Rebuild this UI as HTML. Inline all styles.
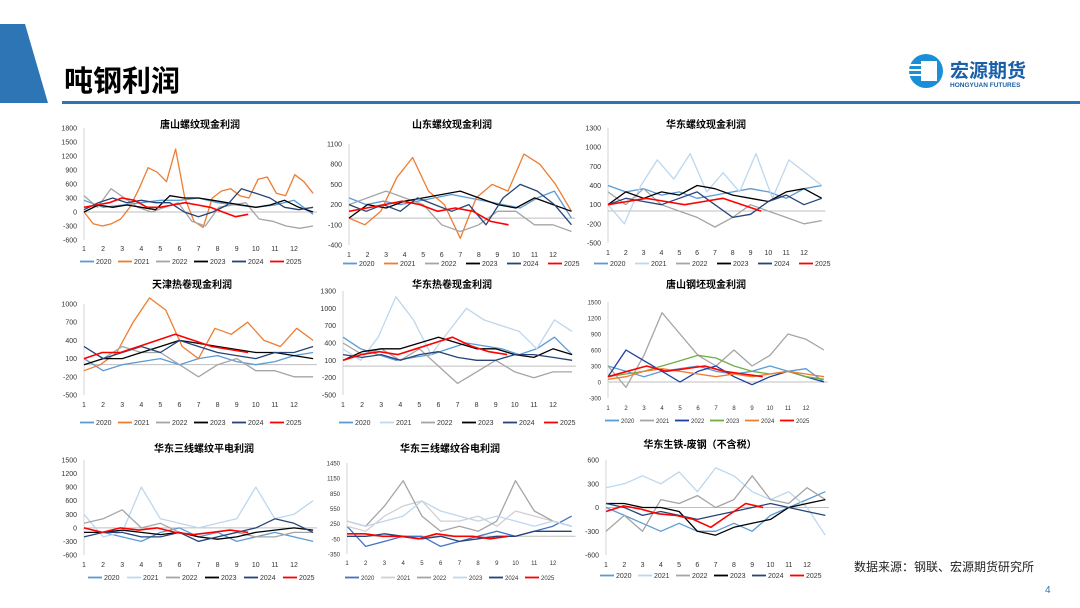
<!DOCTYPE html>
<html><head><meta charset="utf-8">
<style>
html,body{margin:0;padding:0;background:#fff;}
svg{display:block;font-family:"Liberation Sans","Noto Sans CJK SC",sans-serif;}
</style></head>
<body>
<svg id="s" width="1080" height="608" viewBox="0 0 1080 608">
<polygon points="0,24 25,24 48,103 0,103" fill="#2e75b6"/>
<text x="64" y="91" font-size="29" font-weight="bold" fill="#000">吨钢利润</text>
<rect x="62" y="101" width="1018" height="3" fill="#2e75b6"/>
<g>
<circle cx="926" cy="71" r="17" fill="#1a8fd8"/>
<rect x="921" y="61" width="16" height="20" fill="#fff"/>
<rect x="909" y="64" width="12" height="2" fill="#fff"/><rect x="909" y="69" width="12" height="2" fill="#fff"/><rect x="909" y="74" width="12" height="2" fill="#fff"/>
<text x="950" y="77" font-size="19" font-weight="bold" fill="#1a5fa8">宏源期货</text>
<text x="950" y="87" font-size="6.5" font-weight="bold" fill="#1a5fa8">HONGYUAN FUTURES</text>
</g>
<text x="854" y="571" font-size="12" fill="#222">数据来源：钢联、宏源期货研究所</text>
<text x="1045" y="593" font-size="10" fill="#2e75b6">4</text>
</svg>
<script>
// ---- data ----
const years = ["2020","2021","2022","2023","2024","2025"];
const c1_2020=[250,100,150,200,250,250,300,200,150,100,150,250,-50];
const c1_2021=[0,-250,-300,-250,-150,100,500,950,850,650,1350,300,-200,-330,300,450,500,350,300,700,750,400,350,800,650,400];
const c1_2022=[350,100,500,300,100,0,100,200,-200,-300,100,150,200,-150,-200,-300,-350,-300];
const c1_2023=[0,150,100,150,100,50,350,300,300,250,200,150,100,150,250,100,0];
const c1_2024=[50,200,300,200,250,200,200,0,-100,0,150,500,400,300,100,50,100];
const c1_2025=[100,150,200,300,250,100,100,150,200,150,100,0,-100,-50];
const c2_2020=[300,200,250,200,250,300,350,300,250,200,150,300,400,0];
const c2_2021=[0,-100,100,600,900,400,200,-300,300,500,400,950,800,500,100];
const c2_2022=[200,300,400,300,200,-100,-200,-100,100,100,-100,-100,-200];
const c2_2023=[0,200,150,250,300,350,400,300,200,150,300,200,100];
const c2_2024=[200,100,200,100,300,200,100,200,-100,300,500,400,200,-100];
const c2_2025=[100,150,200,250,200,100,150,100,-50,-100];
const c3_2020=[400,300,350,250,300,200,250,300,350,300,200,350,400];
const c3_2021=[100,-200,400,800,500,900,300,600,300,900,200,800,600,400];
const c3_2022=[300,100,350,100,0,-100,-250,-100,100,0,-100,-200,-150];
const c3_2023=[100,300,200,300,250,400,350,250,200,150,300,350,200];
const c3_2024=[100,200,150,100,200,300,100,-100,-50,150,250,100,200];
const c3_2025=[100,150,200,150,100,150,200,100,0];
const c4_2020=[100,-100,0,50,100,0,100,150,50,0,50,150,200];
const c4_2021=[-100,0,200,700,1100,900,300,100,600,500,700,400,300,600,400];
const c4_2022=[300,100,300,200,200,0,-200,0,100,-100,-100,-200,-200];
const c4_2023=[0,100,100,200,300,400,350,300,250,200,200,150,100];
const c4_2024=[300,100,200,300,200,400,300,200,150,100,200,200,300];
const c4_2025=[100,200,200,300,400,500,400,300,250,200];
const c5_2020=[500,300,200,100,150,200,300,400,350,300,200,300,500,200];
const c5_2021=[300,100,500,1200,800,200,600,1000,800,700,600,300,800,600];
const c5_2022=[400,200,300,100,300,0,-300,-100,100,-100,-200,-100,-100];
const c5_2023=[100,250,300,300,400,500,400,300,300,200,150,300,200];
const c5_2024=[200,150,200,100,200,250,150,100,100,200,200,150,100];
const c5_2025=[100,200,250,200,300,400,500,350,250,200];
const c6_2020=[300,200,100,200,250,300,200,150,200,300,200,250,0];
const c6_2021=[300,-100,500,1300,900,500,300,600,300,500,900,800,600];
const c6_2022=[100,600,400,200,0,200,300,100,-50,100,200,100,0];
const c6_2023=[100,150,200,300,400,500,450,300,200,150,200,100,50];
const c6_2024=[50,100,200,250,200,150,100,150,100,150,200,150,100];
const c6_2025=[100,200,300,200,250,300,200,150,100];
const c7_2020=[0,-100,-200,-300,-100,0,-200,-100,-300,-200,-100,-200,-300];
const c7_2021=[300,-200,-100,900,200,100,0,100,200,900,200,300,600];
const c7_2022=[100,200,400,0,100,-100,-300,-200,-100,-200,-200,-100,-100];
const c7_2023=[-100,-100,-50,-100,-150,-100,-200,-250,-200,-100,-50,0,-50];
const c7_2024=[-200,-100,-100,-200,-200,-100,-300,-200,-100,0,200,100,-100];
const c7_2025=[0,-100,0,-50,0,-100,-150,-100,-50,-100];
const c8_2020=[200,-200,-100,0,0,-200,-100,0,100,0,100,200,400];
const c8_2021=[200,100,400,600,700,300,300,400,200,500,400,300,200];
const c8_2022=[300,200,600,1100,400,100,200,100,300,1100,500,300,200];
const c8_2023=[300,200,300,400,700,500,400,300,400,300,200,300,200];
const c8_2024=[0,0,50,0,-50,0,-100,-50,0,0,100,100,100];
const c8_2025=[50,50,0,0,-50,50,0,0,-50,0];
const c9_2020=[0,-100,-200,-300,-200,-300,-300,-200,-300,-100,0,100,200];
const c9_2021=[250,300,400,300,450,200,500,400,200,100,200,0,-350];
const c9_2022=[-300,-100,-300,100,50,150,0,100,400,100,50,250,100];
const c9_2023=[50,50,0,0,-50,-300,-350,-250,-200,-150,0,50,100];
const c9_2024=[50,0,-100,-50,-100,-150,-100,-50,0,50,0,-50,-100];
const c9_2025=[-50,20,-20,-80,-100,-150,-250,-100,50,0];
const ticks1=[1800,1500,1200,900,600,300,0,-300,-600];
const ticks2=[1100,800,500,200,-100,-400];
const ticks3=[1300,1000,700,400,100,-200,-500];
const ticks4=[1000,700,400,100,-200,-500];
const ticks6=[1500,1200,900,600,300,0,-300];
const ticks7=[1500,1200,900,600,300,0,-300,-600];
const ticks8=[1450,1150,850,550,250,-50,-350];
const ticks9=[600,300,0,-300,-600];
const months=[1,2,3,4,5,6,7,8,9,10,11,12];
const ends=[13,13,13,13,13,9.6];

const BLUE="#5b9bd5",OR="#ed7d31",GR="#a5a5a5",BK="#000",NV="#264478",RD="#ff0000",LB="#bdd7ee",GN="#70ad47",LG="#d0d0d0";
const charts=[
 {id:1,title:"唐山螺纹现金利润",tx:200,ty:128,ax:84,x12:294,yT:128,yB:240,ticks:ticks1,xl:251,lg:264,lx:80,ls:38,fs:7,d:[c1_2020,c1_2021,c1_2022,c1_2023,c1_2024,c1_2025],col:[BLUE,OR,GR,BK,NV,RD]},
 {id:2,title:"山东螺纹现金利润",tx:452,ty:128,ax:349,x12:553,yT:144,yB:245,ticks:ticks2,xl:257,lg:266,lx:343,ls:41,fs:7,d:[c2_2020,c2_2021,c2_2022,c2_2023,c2_2024,c2_2025],col:[BLUE,OR,GR,BK,NV,RD]},
 {id:3,title:"华东螺纹现金利润",tx:706,ty:128,ax:608,x12:804,yT:128,yB:243,ticks:ticks3,xl:255,lg:266,lx:594,ls:41,fs:7,d:[c3_2020,c3_2021,c3_2022,c3_2023,c3_2024,c3_2025],col:[BLUE,LB,GR,BK,NV,RD]},
 {id:4,title:"天津热卷现金利润",tx:192,ty:288,ax:84,x12:294,yT:304,yB:395,ticks:ticks4,xl:407,lg:425,lx:80,ls:38,fs:7,d:[c4_2020,c4_2021,c4_2022,c4_2023,c4_2024,c4_2025],col:[BLUE,OR,GR,BK,NV,RD]},
 {id:5,title:"华东热卷现金利润",tx:452,ty:288,ax:343,x12:553,yT:291,yB:395,ticks:ticks3,xl:407,lg:425,lx:339,ls:41,fs:7,d:[c5_2020,c5_2021,c5_2022,c5_2023,c5_2024,c5_2025],col:[BLUE,LB,GR,BK,NV,RD]},
 {id:6,title:"唐山钢坯现金利润",tx:706,ty:288,ax:608,x12:806,yT:302,yB:398,ticks:ticks6,xl:410,lg:423,lx:605,ls:35,fs:6,d:[c6_2020,c6_2021,c6_2022,c6_2023,c6_2024,c6_2025],col:[BLUE,GR,"#1f3fa0",GN,OR,RD]},
 {id:7,title:"华东三线螺纹平电利润",tx:204,ty:452,ax:84,x12:294,yT:460,yB:555,ticks:ticks7,xl:567,lg:580,lx:88,ls:39,fs:7,d:[c7_2020,c7_2021,c7_2022,c7_2023,c7_2024,c7_2025],col:[BLUE,LB,GR,BK,NV,RD]},
 {id:8,title:"华东三线螺纹谷电利润",tx:450,ty:452,ax:347,x12:553,yT:463,yB:554,ticks:ticks8,xl:565,lg:580,lx:345,ls:36,fs:6,d:[c8_2020,c8_2021,c8_2022,c8_2023,c8_2024,c8_2025],col:["#4472c4",LG,GR,LB,NV,RD]},
 {id:9,title:"华东生铁-废钢（不含税）",tx:700,ty:448,ax:606,x12:807,yT:460,yB:555,ticks:ticks9,xl:567,lg:578,lx:600,ls:38,fs:7,d:[c9_2020,c9_2021,c9_2022,c9_2023,c9_2024,c9_2025],col:[BLUE,LB,GR,BK,NV,RD]}
];
const NS="http://www.w3.org/2000/svg";
const svg=document.getElementById('s');
function mk(tag,attrs,parent){const e=document.createElementNS(NS,tag);for(const k in attrs)e.setAttribute(k,attrs[k]);(parent||svg).appendChild(e);return e;}
charts.forEach(c=>{
 const g=mk('g',{});
 
 
 const step=(c.x12-c.ax)/11;
 const vmax=c.ticks[0],vmin=c.ticks[c.ticks.length-1];
 const xs=m=>c.ax+(m-1)*step;
 const ys=v=>c.yT+(vmax-v)/(vmax-vmin)*(c.yB-c.yT);
 const t=mk('text',{x:c.tx,y:c.ty,'font-size':10,'font-weight':'bold','text-anchor':'middle',fill:'#000'},g);
 t.textContent=c.title;
 
 
 const yax=mk('line',{x1:c.ax,x2:c.ax,y1:c.yT,y2:c.yB,stroke:'#bbb','stroke-width':0.6},g);
 
 
 c.ticks.forEach(v=>{
  const l=mk('text',{x:c.ax-7,y:ys(v)+2.5,'font-size':c.fs,'text-anchor':'end',fill:'#333'},g);
  l.textContent=v;
  
  
 });
 const z=mk('line',{x1:c.ax,x2:xs(13.2),y1:ys(0),y2:ys(0),stroke:'#bfbfbf','stroke-width':1},g);
 
 
 months.forEach(m=>{
  const l=mk('text',{x:xs(m),y:c.xl,'font-size':c.fs,'text-anchor':'middle',fill:'#333'},g);
  l.textContent=m;
  
  
 });
 c.d.forEach((arr,i)=>{
  const end=ends[i];
  const pts=arr.map((v,k)=>{const m=1+(end-1)*k/(arr.length-1);return xs(m).toFixed(1)+','+ys(v).toFixed(1);}).join(' ');
  const p=mk('polyline',{points:pts,fill:'none',stroke:c.col[i],'stroke-width':i==5?1.6:1.3,'stroke-linejoin':'round'},g);
  
  
  const lx=c.lx+i*c.ls;
  const ll=mk('line',{x1:lx,x2:lx+14,y1:c.lg-2.5,y2:c.lg-2.5,stroke:c.col[i],'stroke-width':1.8},g);
  
  
  const lt=mk('text',{x:lx+16,y:c.lg,'font-size':c.fs,fill:'#333'},g);
  lt.textContent=years[i];
  
  
 });
});
</script>
</body></html>
